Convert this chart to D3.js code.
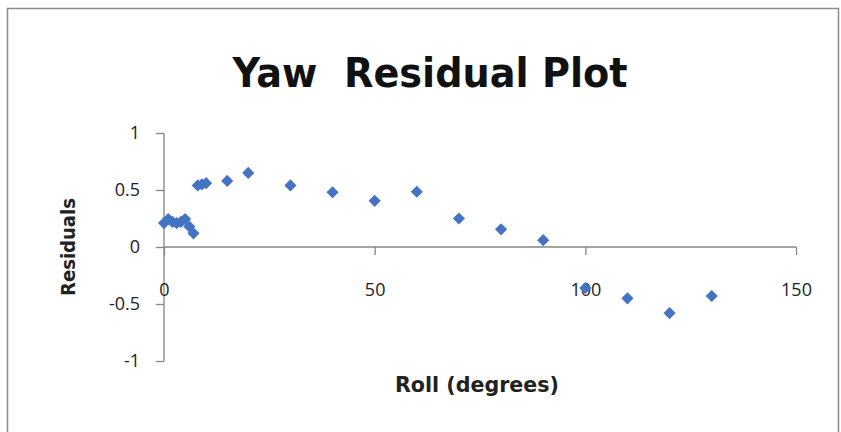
<!DOCTYPE html>
<html><head><meta charset="utf-8">
<script src="https://cdn.jsdelivr.net/npm/d3@7"></script>
<style>body{margin:0;background:#fff}svg{display:block}text{white-space:pre}</style>
</head><body>
<script>
const rollDeg = [0,1,2,3,4,5,6,7,8,9,10,15,20,30,40,50,60,70,80,90,100,110,120,130];
const residuals = [0.21,0.245,0.22,0.21,0.22,0.245,0.18,0.12,0.54,0.55,0.56,0.58,0.65,0.54,0.48,0.405,0.485,0.25,0.155,0.06,-0.36,-0.45,-0.58,-0.43];
const xTicks = [0,50,100,150];
const yTicks = [-1,-0.5,0,0.5,1];
const yTickLabels = ["-1","-0.5","0","0.5","1"];

const W=841,H=432;
const svg=d3.select("body").append("svg").attr("width",W).attr("height",H);
svg.append("rect").attr("x",7.5).attr("y",8.5).attr("width",831).attr("height",440)
  .attr("fill","#fff").attr("stroke","#8c8c8c").attr("stroke-width",1.5);

const x=d3.scaleLinear().domain([0,150]).range([164,796]);
const y=d3.scaleLinear().domain([-1,1]).range([361,133]);
const font="'Liberation Sans Narrow','DejaVu Sans Condensed', sans-serif";
const tickFont="'Open Sans', sans-serif";

// y axis
const ya=svg.append("g").attr("transform",`translate(${x(0)},0)`)
  .call(d3.axisLeft(y).tickValues(yTicks).tickSize(8).tickPadding(16).tickFormat((d,i)=>yTickLabels[i]));
ya.select(".domain").attr("stroke","#868686").attr("stroke-width",1.3).attr("d",`M0,${y(1)}V${y(-1)}`);
ya.selectAll(".tick line").attr("stroke","#868686").attr("stroke-width",1.3);
ya.selectAll(".tick text").attr("font-family",tickFont).attr("font-size",18).attr("fill","#222");

// x axis
const xa=svg.append("g").attr("transform",`translate(0,${y(0)})`)
  .call(d3.axisBottom(x).tickValues(xTicks).tickSize(8).tickPadding(28));
xa.select(".domain").attr("stroke","#868686").attr("stroke-width",1.3).attr("d",`M${x(0)},0H${x(150)}`);
xa.selectAll(".tick line").attr("stroke","#868686").attr("stroke-width",1.3);
xa.selectAll(".tick text").attr("font-family",tickFont).attr("font-size",18).attr("fill","#222");

// points
const sym=d3.symbol(d3.symbolSquare,74);
svg.append("g").selectAll("path").data(rollDeg).join("path")
  .attr("d",sym)
  .attr("transform",(d,i)=>`translate(${x(d)},${y(residuals[i])}) rotate(45)`)
  .attr("fill","#4573C4");

// title
svg.append("text").attr("x",430).attr("y",87).attr("text-anchor","middle")
  .attr("font-family",font).attr("font-weight","bold").attr("font-size",40)
  .attr("textLength",395).attr("lengthAdjust","spacingAndGlyphs")
  .attr("fill","#111").text("Yaw  Residual Plot");

// axis titles
svg.append("text").attr("x",477).attr("y",392).attr("text-anchor","middle")
  .attr("font-family",font).attr("font-weight","bold").attr("font-size",21)
  .attr("textLength",164).attr("lengthAdjust","spacingAndGlyphs")
  .attr("fill","#222").text("Roll (degrees)");
svg.append("text").attr("transform","translate(75,247) rotate(-90)").attr("text-anchor","middle")
  .attr("font-family",font).attr("font-weight","bold").attr("font-size",20)
  .attr("textLength",98).attr("lengthAdjust","spacingAndGlyphs")
  .attr("fill","#222").text("Residuals");
</script>
</body></html>
